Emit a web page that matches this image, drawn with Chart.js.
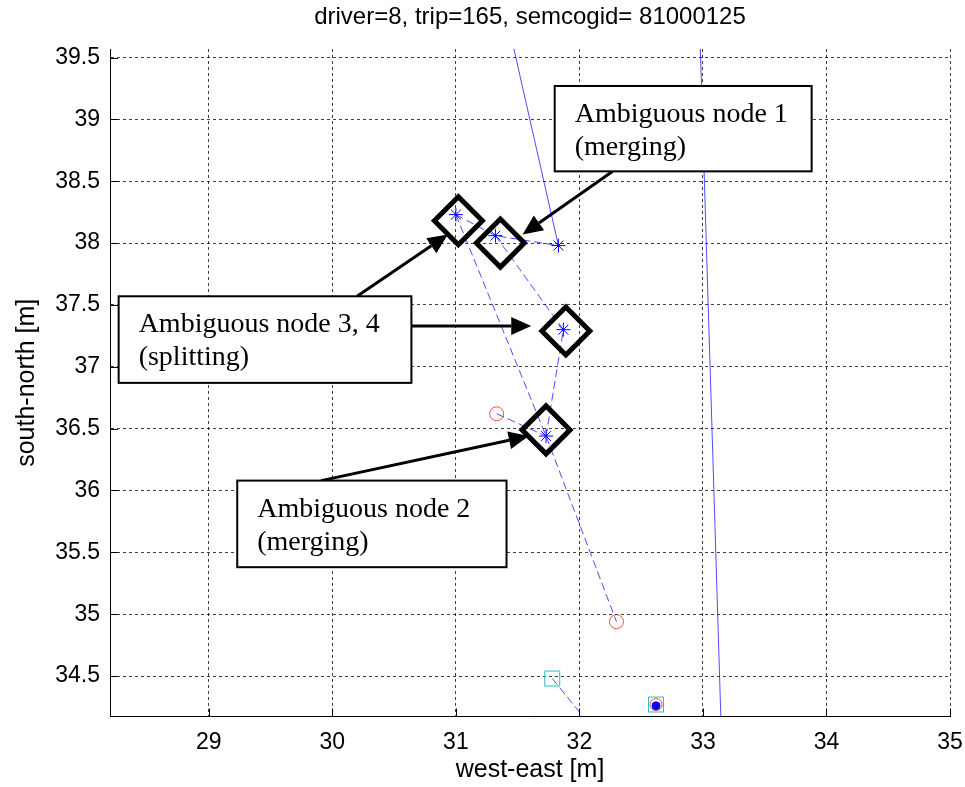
<!DOCTYPE html>
<html>
<head>
<meta charset="utf-8">
<script src="https://cdn.jsdelivr.net/npm/chart.js@4.4.1/dist/chart.umd.min.js"></script>
<style>
  html, body { margin: 0; padding: 0; background: #fff; }
</style>
</head>
<body>
<canvas id="chart" width="965" height="787"></canvas>
<script>
// axis ticks
const xTicks = [29, 30, 31, 32, 33, 34, 35];
const yTicks = [34.5, 35, 35.5, 36, 36.5, 37, 37.5, 38, 38.5, 39, 39.5];

// trajectories [x, y] in metres
const trackTopSolid = [[31.44, 39.7], [31.83, 37.98]];
const trackEastSolid = [[32.975, 39.7], [33.15, 34.0]];
const trackNodes = [[31.00, 38.23], [31.32, 38.06], [31.83, 37.98]];
const trackWest = [[31.00, 38.23], [31.73, 36.44], [32.30, 34.94]];
const trackMid = [[31.32, 38.06], [31.87, 37.30], [31.73, 36.44]];
const trackCircle = [[31.33, 36.62], [31.73, 36.44]];
const trackSouth = [[31.78, 34.48], [32.17, 34.0]];

// markers
const starPoints = [[31.00, 38.23], [31.32, 38.06], [31.83, 37.98], [31.87, 37.30], [31.73, 36.44]];
const redCircles = [[31.33, 36.62], [32.30, 34.94]];
const cyanSquares = [[31.78, 34.48], [32.62, 34.27]];
const endCircle = [[32.62, 34.27]];
const endDot = [[32.62, 34.26]];
const ambiguousNodes = [[31.02, 38.18], [31.36, 38.0], [31.89, 37.29], [31.73, 36.49]];

// annotation boxes and arrows (data coordinates)
const noteBoxes = [
	{ lines: ['Ambiguous node 1', '(merging)'], x1: 31.80, y1: 39.27, x2: 33.88, y2: 38.58 },
	{ lines: ['Ambiguous node 3, 4', '(splitting)'], x1: 28.27, y1: 37.57, x2: 30.64, y2: 36.87 },
	{ lines: ['Ambiguous node 2', '(merging)'], x1: 29.23, y1: 36.08, x2: 31.41, y2: 35.38 },
];
const noteArrows = [
	{ from: [32.27, 38.58], to: [31.54, 38.07] },
	{ from: [30.20, 37.57], to: [30.935, 38.07] },
	{ from: [30.64, 37.33], to: [31.61, 37.33] },
	{ from: [29.91, 36.08], to: [31.59, 36.44] },
];

const toPts = (arr) => arr.map(([x, y]) => ({ x, y }));
const BLUE = "rgba(0, 0, 255, 0.7)";

const lineSet = (pts, dashed) => ({
	data: toPts(pts),
	showLine: true,
	borderColor: BLUE,
	borderWidth: 1,
	borderDash: dashed ? [8, 4] : [],
	pointRadius: 0,
	fill: false,
	clip: 0,
});

const markerSet = (pts, style, radius, color, fillColor, width) => ({
	data: toPts(pts),
	showLine: false,
	pointStyle: style,
	pointRadius: radius,
	pointHoverRadius: radius,
	pointBorderColor: color,
	pointBackgroundColor: fillColor,
	pointBorderWidth: width,
});

const inwardTicks = {
	id: "inwardTicks",
	beforeDatasetsDraw(chart) {
		const { ctx, chartArea: a, scales } = chart;
		ctx.save();
		ctx.strokeStyle = "#000";
		ctx.lineWidth = 1;
		ctx.beginPath();
		scales.x.ticks.forEach((t) => {
			const px = Math.round(scales.x.getPixelForValue(t.value)) + 0.5;
			ctx.moveTo(px, a.bottom);
			ctx.lineTo(px, a.bottom - 8);
		});
		scales.y.ticks.forEach((t) => {
			const py = Math.round(scales.y.getPixelForValue(t.value)) + 0.5;
			ctx.moveTo(a.left, py);
			ctx.lineTo(a.left + 8, py);
		});
		ctx.stroke();
		ctx.restore();
	},
};

const annotations = {
	id: "annotations",
	afterDatasetsDraw(chart) {
		const { ctx, scales: { x, y } } = chart;
		ctx.save();
		ctx.strokeStyle = "#000";
		ctx.fillStyle = "#000";
		ctx.lineWidth = 3;
		noteArrows.forEach(({ from, to }) => {
			const x1 = x.getPixelForValue(from[0]), y1 = y.getPixelForValue(from[1]);
			const x2 = x.getPixelForValue(to[0]), y2 = y.getPixelForValue(to[1]);
			const ang = Math.atan2(y2 - y1, x2 - x1);
			const len = 20, half = 9;
			const bx = x2 - len * Math.cos(ang), by = y2 - len * Math.sin(ang);
			ctx.beginPath();
			ctx.moveTo(x1, y1);
			ctx.lineTo(bx, by);
			ctx.stroke();
			ctx.beginPath();
			ctx.moveTo(x2, y2);
			ctx.lineTo(bx - half * Math.sin(ang), by + half * Math.cos(ang));
			ctx.lineTo(bx + half * Math.sin(ang), by - half * Math.cos(ang));
			ctx.closePath();
			ctx.fill();
		});

		ctx.lineWidth = 2;
		ctx.font = "28px 'Liberation Serif', 'Times New Roman', serif";
		ctx.textBaseline = "alphabetic";
		noteBoxes.forEach((b) => {
			const left = x.getPixelForValue(b.x1), top = y.getPixelForValue(b.y1);
			const right = x.getPixelForValue(b.x2), bottom = y.getPixelForValue(b.y2);
			ctx.fillStyle = "#fff";
			ctx.fillRect(left, top, right - left, bottom - top);
			ctx.strokeRect(left, top, right - left, bottom - top);
			ctx.fillStyle = "#000";
			b.lines.forEach((line, i) => {
				ctx.fillText(line, left + 20, top + 36 + i * 33);
			});
		});
		ctx.restore();
	},
};

Chart.defaults.font.family = "'Liberation Sans', Arial, sans-serif";
Chart.defaults.color = "#000";

// keep tick labels from pushing the plot area inwards
const noPad = (s) => {
	s.paddingLeft = 0;
	s.paddingRight = 0;
	s.paddingTop = 0;
	s.paddingBottom = 0;
};

const ctx = document.getElementById("chart").getContext("2d");

new Chart(ctx, {
	type: "scatter",
	data: {
		datasets: [
			markerSet(ambiguousNodes, "rectRot", 24, "#000", "rgba(0,0,0,0)", 5),
			markerSet(endDot, "circle", 4, "#0000ff", "#0000ff", 1),
			markerSet(endCircle, "circle", 6, "rgba(255,0,0,0.75)", "rgba(0,0,0,0)", 1),
			markerSet(starPoints, "star", 7, "#0000ff", "rgba(0,0,0,0)", 1),
			markerSet(redCircles, "circle", 7, "rgba(255,0,0,0.7)", "rgba(0,0,0,0)", 1),
			markerSet(cyanSquares, "rect", 10.6, "rgb(40,190,200)", "rgba(0,0,0,0)", 1),
			lineSet(trackTopSolid, false),
			lineSet(trackEastSolid, false),
			lineSet(trackNodes, true),
			lineSet(trackWest, true),
			lineSet(trackMid, true),
			lineSet(trackCircle, true),
			lineSet(trackSouth, true),
		],
	},
	options: {
		responsive: false,
		animation: false,
		events: [],
		layout: { autoPadding: false, padding: { left: 0, right: 15, top: 0, bottom: 0 } },
		plugins: {
			legend: { display: false },
			tooltip: { enabled: false },
			title: {
				display: true,
				fullSize: false,
				text: "driver=8, trip=165, semcogid= 81000125",
				color: "#000",
				font: { size: 24, weight: "normal" },
				padding: { top: 3, bottom: 17.2 },
			},
		},
		scales: {
			x: {
				type: "linear",
				min: 28.2,
				max: 35,
				afterBuildTicks: (s) => { s.ticks = xTicks.map((v) => ({ value: v })); },
				afterFit: (s) => { s.height = 70.5; noPad(s); },
				ticks: { callback: (v) => String(v), font: { size: 23 }, padding: 12, maxRotation: 0 },
				grid: { color: "rgba(0,0,0,0.75)", lineWidth: 1, drawTicks: false },
				border: { display: true, color: "#000", width: 1, dash: [3, 3] },
				title: { display: true, text: "west-east [m]", font: { size: 25 }, padding: { top: 0, bottom: 2 } },
			},
			y: {
				type: "linear",
				min: 34.173,
				max: 39.569,
				afterBuildTicks: (s) => { s.ticks = yTicks.map((v) => ({ value: v })); },
				afterFit: (s) => { s.width = 110; noPad(s); },
				ticks: { callback: (v) => String(v), font: { size: 23 }, padding: 10 },
				grid: { color: "rgba(0,0,0,0.75)", lineWidth: 1, drawTicks: false },
				border: { display: true, color: "#000", width: 1, dash: [3, 3] },
				title: { display: true, text: "south-north [m]", font: { size: 25 }, padding: { top: 12, bottom: 0 } },
			},
		},
	},
	plugins: [inwardTicks, annotations],
});
</script>
</body>
</html>
